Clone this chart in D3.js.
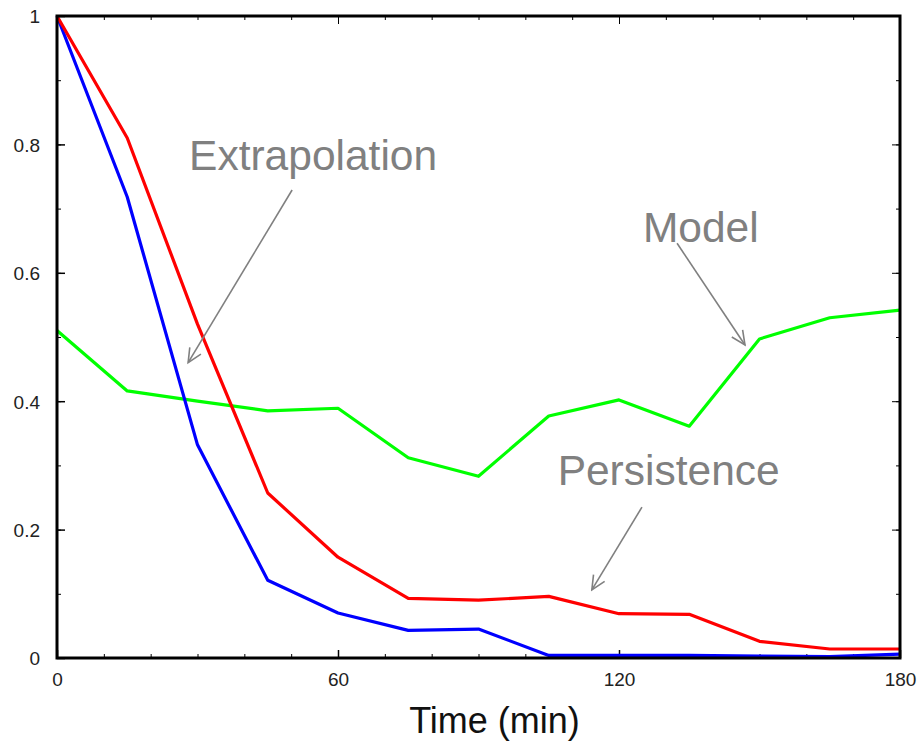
<!DOCTYPE html>
<html>
<head>
  <meta charset="utf-8">
  <title>Time (min)</title>
  <script src="https://d3js.org/d3.v7.min.js"></script>
  <style>
    body { margin: 0; background: #fff; }
    text { font-family: "Liberation Sans", Arial, sans-serif; }
  </style>
</head>
<body>
<script>
  // minutes after start
  var times = [0, 15, 30, 45, 60, 75, 90, 105, 120, 135, 150, 165, 180];
  var persistence = [1.0, 0.81, 0.52, 0.257, 0.157, 0.093, 0.09, 0.096, 0.069, 0.068, 0.026, 0.014, 0.014];
  var extrapolation = [1.0, 0.718, 0.332, 0.121, 0.07, 0.043, 0.045, 0.004, 0.004, 0.004, 0.003, 0.002, 0.006];
  var model = [0.51, 0.416, 0.40, 0.385, 0.389, 0.312, 0.283, 0.377, 0.402, 0.361, 0.497, 0.53, 0.542];

  var xMajor = [0, 60, 120, 180];
  var yMajor = [0, 0.2, 0.4, 0.6, 0.8, 1];

  // annotation: label, text anchor [min, value], arrow from, arrow to
  var notes = [
    {label: "Extrapolation", at: [28.2, 0.76], from: [50.2, 0.729], to: [28.0, 0.46]},
    {label: "Model", at: [125.1, 0.648], from: [132.4, 0.646], to: [146.9, 0.4875]},
    {label: "Persistence", at: [106.9, 0.2695], from: [124.9, 0.235], to: [114.2, 0.106]}
  ];

  var W = 918, H = 745;
  var m = {left: 57, right: 18, top: 16, bottom: 87};

  var svg = d3.select("body").append("svg")
    .attr("width", W).attr("height", H);

  var x = d3.scaleLinear().domain([0, 180]).range([m.left, W - m.right]);
  var y = d3.scaleLinear().domain([0, 1]).range([H - m.bottom, m.top]);

  var defs = svg.append("defs");
  defs.append("marker")
    .attr("id", "vhead")
    .attr("markerUnits", "userSpaceOnUse")
    .attr("viewBox", "-16 -8 18 16")
    .attr("refX", 0).attr("refY", 0)
    .attr("markerWidth", 18).attr("markerHeight", 16)
    .attr("orient", "auto")
    .append("path")
    .attr("d", "M-14,-6.5L0,0L-14,6.5")
    .attr("fill", "none")
    .attr("stroke", "#808080")
    .attr("stroke-width", 1.6);

  var bottomY = H - m.bottom, rightX = W - m.right;
  var xMinor = d3.range(0, 181, 10);
  var yMinor = d3.range(0, 1.001, 0.1);

  function minorAxis(g, ax) {
    g.call(ax.tickFormat("").tickSizeOuter(0))
      .call(function(s) { s.select(".domain").remove(); })
      .selectAll("line").attr("stroke", "#000").attr("stroke-width", 1);
  }

  // minor ticks on all four sides
  svg.append("g").attr("transform", "translate(0," + bottomY + ")")
    .call(minorAxis, d3.axisBottom(x).tickValues(xMinor).tickSize(-4));
  svg.append("g").attr("transform", "translate(0," + m.top + ")")
    .call(minorAxis, d3.axisTop(x).tickValues(xMinor).tickSize(-4));
  svg.append("g").attr("transform", "translate(" + m.left + ",0)")
    .call(minorAxis, d3.axisLeft(y).tickValues(yMinor).tickSize(-4));
  svg.append("g").attr("transform", "translate(" + rightX + ",0)")
    .call(minorAxis, d3.axisRight(y).tickValues(yMinor).tickSize(-4));

  // major ticks
  var gx = svg.append("g").attr("transform", "translate(0," + bottomY + ")")
    .call(d3.axisBottom(x).tickValues(xMajor).tickSize(-8).tickSizeOuter(0).tickPadding(15));
  var gy = svg.append("g").attr("transform", "translate(" + m.left + ",0)")
    .call(d3.axisLeft(y).tickValues(yMajor).tickSize(-8).tickSizeOuter(0).tickPadding(17)
      .tickFormat(function(d) { return d3.format("")(+d.toFixed(1)); }));
  svg.append("g").attr("transform", "translate(0," + m.top + ")")
    .call(minorAxis, d3.axisTop(x).tickValues(xMajor).tickSize(-8));
  svg.append("g").attr("transform", "translate(" + rightX + ",0)")
    .call(minorAxis, d3.axisRight(y).tickValues(yMajor).tickSize(-8));

  [gx, gy].forEach(function(g) {
    g.select(".domain").remove();
    g.selectAll("line").attr("stroke", "#000").attr("stroke-width", 1.5);
    g.selectAll("text")
      .style("font-family", "'Liberation Sans', Arial, sans-serif")
      .style("font-size", "19px")
      .attr("fill", "#222");
  });
  gy.selectAll("text").attr("dy", "0.36em");

  // series lines
  var line = d3.line()
    .x(function(d) { return x(d[0]); })
    .y(function(d) { return y(d[1]); });

  var series = [
    {vals: model, color: "#00ff00"},
    {vals: extrapolation, color: "#0000ff"},
    {vals: persistence, color: "#ff0000"}
  ];

  svg.append("g").selectAll("path").data(series).join("path")
    .attr("d", function(s) { return line(d3.zip(times, s.vals)); })
    .attr("fill", "none")
    .attr("stroke", function(s) { return s.color; })
    .attr("stroke-width", 3.2)
    .attr("stroke-linejoin", "round");

  // frame on top
  svg.append("rect")
    .attr("x", m.left).attr("y", m.top)
    .attr("width", rightX - m.left).attr("height", bottomY - m.top)
    .attr("fill", "none").attr("stroke", "#000").attr("stroke-width", 3);

  // annotations
  var ann = svg.append("g");
  ann.selectAll("line").data(notes).join("line")
    .attr("x1", function(d) { return x(d.from[0]); })
    .attr("y1", function(d) { return y(d.from[1]); })
    .attr("x2", function(d) { return x(d.to[0]); })
    .attr("y2", function(d) { return y(d.to[1]); })
    .attr("stroke", "#808080")
    .attr("stroke-width", 1.6)
    .attr("marker-end", "url(#vhead)");
  ann.selectAll("text").data(notes).join("text")
    .attr("x", function(d) { return x(d.at[0]); })
    .attr("y", function(d) { return y(d.at[1]); })
    .attr("fill", "#808080")
    .style("font-size", "42.5px")
    .text(function(d) { return d.label; });

  svg.append("text")
    .attr("x", (m.left + rightX) / 2 + 16)
    .attr("y", 733)
    .attr("text-anchor", "middle")
    .attr("fill", "#111")
    .style("font-size", "36px")
    .text("Time (min)");
</script>
</body>
</html>
